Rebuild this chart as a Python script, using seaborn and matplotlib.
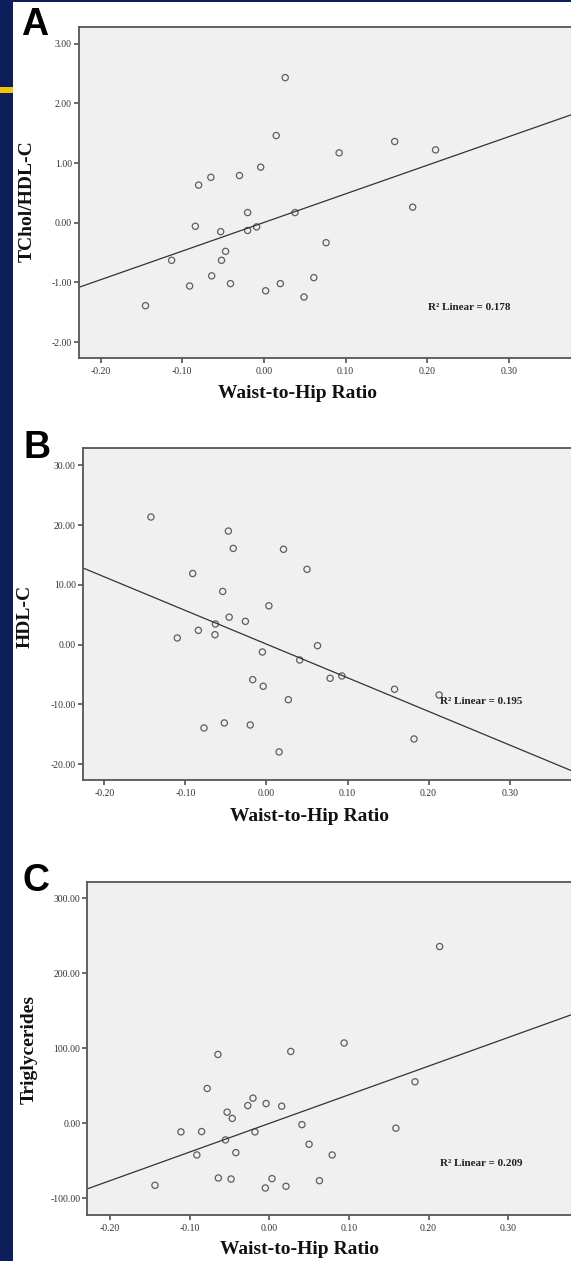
import matplotlib
matplotlib.use("Agg")
import matplotlib.pyplot as plt
from matplotlib.patches import Rectangle
from matplotlib.ticker import FormatStrFormatter, MultipleLocator
import seaborn as sns
import numpy as np
import pandas as pd

# ---------------- data ----------------
whr_a = [0.026, 0.015, 0.160, 0.210, 0.092, -0.004, -0.030, -0.065, -0.080, 0.182,
         -0.020, 0.038, -0.084, -0.053, -0.020, -0.009, 0.076, -0.047, -0.113, -0.052,
         -0.064, -0.091, -0.041, 0.002, 0.020, 0.061, 0.049, -0.145]
tchol_hdl = [2.43, 1.46, 1.36, 1.22, 1.17, 0.93, 0.79, 0.76, 0.63, 0.26,
             0.17, 0.17, -0.06, -0.15, -0.13, -0.07, -0.335, -0.48, -0.63, -0.63,
             -0.89, -1.06, -1.02, -1.14, -1.02, -0.92, -1.245, -1.39]

whr_b = [-0.1425, -0.047, -0.041, 0.021, -0.091, 0.050, -0.054, 0.003, -0.046, -0.026,
         -0.063, -0.084, -0.0635, -0.110, 0.063, -0.005, 0.041, -0.017, -0.004, 0.0785,
         0.093, 0.158, 0.213, 0.027, -0.077, -0.052, -0.020, 0.182, 0.0156]
hdl_c = [21.35, 19.0, 16.1, 15.95, 11.9, 12.6, 8.9, 6.5, 4.6, 3.9,
         3.46, 2.4, 1.67, 1.12, -0.17, -1.22, -2.56, -5.85, -6.96, -5.62,
         -5.23, -7.46, -8.41, -9.2, -13.93, -13.09, -13.43, -15.77, -17.94]

whr_c = [0.214, 0.094, 0.027, -0.0645, 0.183, -0.078, -0.0205, -0.027, -0.004, 0.0156,
         -0.053, -0.0465, 0.041, 0.159, -0.111, -0.085, -0.018, -0.055, 0.050, -0.091,
         -0.042, 0.079, -0.064, -0.048, 0.0034, 0.063, -0.1436, 0.021, -0.005]
triglycerides = [235.7, 107.0, 95.7, 91.7, 55.2, 46.3, 33.4, 23.5, 26.2, 22.7,
                 14.7, 6.4, -1.9, -6.7, -11.6, -11.2, -11.6, -22.3, -28.1, -42.4,
                 -39.3, -42.4, -73.1, -74.5, -74.0, -76.7, -82.9, -84.2, -86.5]

panel_letters = ["A", "B", "C"]
y_labels = ["TChol/HDL-C", "HDL-C", "Triglycerides"]
x_label = "Waist-to-Hip Ratio"
r2_texts = ["R\u00b2 Linear = 0.178", "R\u00b2 Linear = 0.195", "R\u00b2 Linear = 0.209"]
x_ticks = [-0.20, -0.10, 0.00, 0.10, 0.20, 0.30]
y_tick_steps = [1.0, 10.0, 100.0]

# ---------------- style ----------------
sns.set_theme(style="ticks")
plt.rcParams["font.family"] = ["Liberation Serif", "DejaVu Serif"]

W, H = 571, 1261
fig = plt.figure(figsize=(W / 100, H / 100), dpi=100, facecolor="white")

navy = "#0c1f5a"
fig.patches.append(Rectangle((0, 0), 13 / W, 1, transform=fig.transFigure,
                             facecolor=navy, edgecolor="none", zorder=0))
fig.patches.append(Rectangle((0, 1 - 1.5 / H), 1, 1.5 / H, transform=fig.transFigure,
                             facecolor=navy, edgecolor="none", zorder=0))
fig.patches.append(Rectangle((0, 1 - 93 / H), 13 / W, 6 / H, transform=fig.transFigure,
                             facecolor="#f5c400", edgecolor="none", zorder=1))

def px_ax(left, top, right, bottom):
    return [left / W, 1 - bottom / H, (right - left) / W, (bottom - top) / H]

# axes geometry in pixels: left, top, right, bottom ; limits
panels = [
    dict(box=(79, 27, 580, 358), xlim=(-0.2264, 0.3868), ylim=(-2.266, 3.278),
         x=whr_a, y=tchol_hdl, letter_xy=(21, 7), ylab_x=27, ylab_y=201,
         xlab=(297, 393), r2=(510, 307)),
    dict(box=(82.7, 448, 580, 780.3), xlim=(-0.2267, 0.3868), ylim=(-22.68, 32.89),
         x=whr_b, y=hdl_c, letter_xy=(23, 430), ylab_x=25, ylab_y=616,
         xlab=(310, 816.7), r2=(522, 701)),
    dict(box=(87.3, 882.3, 580, 1215.3), xlim=(-0.2286, 0.3903), ylim=(-122.9, 321.4),
         x=whr_c, y=triglycerides, letter_xy=(22, 863), ylab_x=29, ylab_y=1049,
         xlab=(300, 1250), r2=(522, 1164)),
]

edge = "#3a3a3a"
for i, p in enumerate(panels):
    ax = fig.add_axes(px_ax(*p["box"]))
    ax.set_facecolor("#f0f0f0")
    ax.set_xlim(*p["xlim"])
    ax.set_ylim(*p["ylim"])
    df = pd.DataFrame({"x": p["x"], "y": p["y"]})
    sns.regplot(data=df, x="x", y="y", ax=ax, ci=None, truncate=False,
                scatter_kws=dict(facecolors="none", edgecolors=edge, s=20, linewidths=0.9),
                line_kws=dict(color="#333333", linewidth=0.9))
    ax.set_xlim(*p["xlim"])
    ax.set_ylim(*p["ylim"])
    ax.set_xlabel("")
    ax.set_ylabel("")
    ax.set_xticks(x_ticks)
    ax.yaxis.set_major_locator(MultipleLocator(y_tick_steps[i]))
    ax.xaxis.set_major_formatter(FormatStrFormatter("%.2f"))
    ax.yaxis.set_major_formatter(FormatStrFormatter("%.2f"))
    ax.tick_params(axis="both", direction="out", length=3.8, width=1.1, color="#444444",
                   labelsize=7, labelcolor="#333333", pad=1.2)
    ax.tick_params(axis="x", pad=2.5)
    for s in ["left", "bottom", "top"]:
        ax.spines[s].set_color("#555555")
        ax.spines[s].set_linewidth(1.3)
    ax.spines["right"].set_visible(False)

    fig.text(p["letter_xy"][0] / W, 1 - p["letter_xy"][1] / H, panel_letters[i],
             family=["Liberation Sans", "DejaVu Sans"], fontweight="bold", fontsize=27,
             ha="left", va="top", color="black")
    fig.text(p["ylab_x"] / W, 1 - p["ylab_y"] / H, y_labels[i], rotation=90,
             fontweight="bold", fontsize=14, ha="center", va="center", color="#111111")
    fig.text(p["xlab"][0] / W, 1 - p["xlab"][1] / H, x_label,
             fontweight="bold", fontsize=14, ha="center", va="center", color="#111111")
    fig.text(p["r2"][0] / W, 1 - p["r2"][1] / H, r2_texts[i],
             fontweight="bold", fontsize=8, ha="right", va="center", color="#222222")

fig.savefig("out.png", dpi=100, facecolor="white")
